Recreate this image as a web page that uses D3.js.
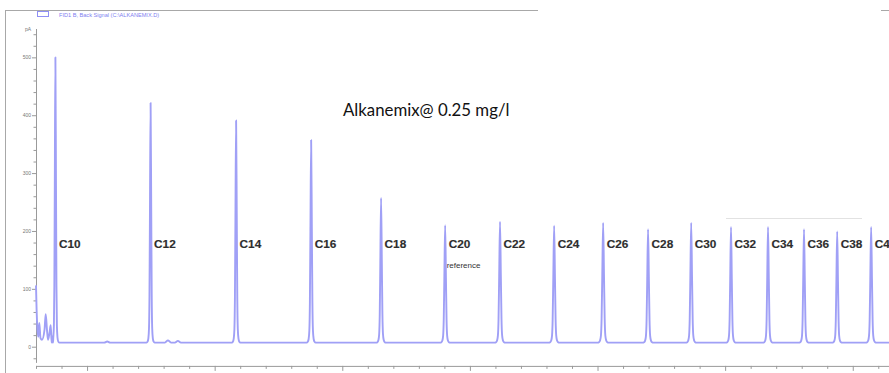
<!DOCTYPE html>
<html><head><meta charset="utf-8">
<script src="https://cdn.jsdelivr.net/npm/d3@7/dist/d3.min.js"></script>
<style>html,body{margin:0;padding:0;background:#fff;}svg{display:block;}</style>
</head><body>
<svg id="c" width="889" height="373"></svg>
<script>
// ---- data ----
const peakLabels = ["C10","C12","C14","C16","C18","C20","C22","C24","C26","C28","C30","C32","C34","C36","C38","C4"];
const peakTimes  = [3.76, 7.49, 10.84, 13.78, 16.52, 19.03, 21.18, 23.30, 25.22, 26.98, 28.67, 30.23, 31.68, 33.09, 34.39, 35.72]; // min
const peakHeights= [500, 421, 391, 357, 257, 210, 216, 209, 214, 203, 214, 207, 207, 203, 199, 207]; // pA
const peakWidths = [0.75, 0.8, 0.85, 0.9, 0.95, 1.0, 1.05, 1.05, 1.1, 1.05, 1.05, 1.0, 1.0, 1.0, 1.0, 1.05];
const baselinePA = 7;
const solventTimes  = [3.00, 3.024, 3.059, 3.09, 3.129, 3.176, 3.235, 3.333, 3.38, 3.43, 3.47, 3.529, 3.576, 3.627, 3.666];
const solventValues = [106, 63, 29, 17, 41, 15, 12, 29, 56, 29, 12, 24, 37, 18, 7];
const minorBumpTimes = [5.79, 8.17, 8.56];
const minorBumpValues= [9, 11, 10];
const yTicks = [0, 100, 200, 300, 400, 500];
const xMajorTicks = [5, 10, 15, 20, 25, 30, 35];
const titleText = "Alkanemix@ 0.25 mg/l";
const legendText = "FID1 B, Back Signal (C:\\ALKANEMIX.D)";
const unitText = "pA";
const refText = "reference";

// ---- shape of a single peak (offsets in px of base width, fraction of height) ----
const PEAK_PROFILE = [[-5,0],[-3.8,0.004],[-2.8,0.018],[-2.0,0.06],[-1.4,0.2],[-0.8,0.55],[0,1],[0.8,0.55],[1.4,0.2],[2.0,0.06],[2.8,0.018],[3.8,0.004],[5,0]];

const svg = d3.select("#c");
const x = d3.scaleLinear().domain([3, 36.42]).range([36, 889]);
const y = d3.scaleLinear().domain([-28, 549]).range([362.9, 29]);
const pxToMin = (x.domain()[1]-x.domain()[0])/(x.range()[1]-x.range()[0]);

const blue = "#a0a0f6";
const grey = "#9a9a9a";

// frame
svg.append("line").attr("x1",5.5).attr("x2",5.5).attr("y1",10).attr("y2",373).attr("stroke","#a8a8a8").attr("stroke-width",1);
svg.append("line").attr("x1",5.5).attr("x2",889).attr("y1",10.5).attr("y2",10.5).attr("stroke","#a8a8a8").attr("stroke-width",1);

// y axis
const yAxis = d3.axisLeft(y).tickValues(yTicks).tickSize(4).tickFormat(d3.format("d"));
const yMinor = d3.range(-20, 549, 20).filter(v => v % 100 !== 0);
const gy = svg.append("g").attr("transform","translate(36,0)");
gy.call(yAxis);
gy.select(".domain").attr("stroke",grey).attr("d", `M0.5,${y(549)}V${y(-28)}`);
gy.selectAll(".tick line").attr("stroke",grey);
gy.selectAll(".tick text").attr("fill","#777").attr("font-size","5px").attr("font-family","Liberation Sans, Arial, sans-serif").attr("x",-5);
gy.append("g").selectAll("line").data(yMinor).join("line")
  .attr("x1",-2.5).attr("x2",0).attr("y1",d=>y(d)+0.5).attr("y2",d=>y(d)+0.5).attr("stroke",grey);
svg.append("text").attr("x",31).attr("y",y(549)+2).attr("text-anchor","end")
  .attr("font-size","5px").attr("fill","#777").attr("font-family","Liberation Sans, Arial, sans-serif").text(unitText);

// x axis
const gx = svg.append("g").attr("transform",`translate(0,${y(-28)+3})`);
gx.call(d3.axisBottom(x).tickValues(xMajorTicks).tickSize(5).tickFormat(""));
gx.select(".domain").attr("stroke",grey).attr("d",`M36,0.5H889`);
gx.selectAll(".tick line").attr("stroke",grey);
gx.append("g").selectAll("line").data(d3.range(3, 37, 1).filter(t => t % 5 !== 0)).join("line")
  .attr("x1",d=>x(d)+0.5).attr("x2",d=>x(d)+0.5).attr("y1",0).attr("y2",3).attr("stroke",grey);

// chromatogram trace
let pts = [];
solventTimes.forEach((t,i)=>pts.push({t:t, v:solventValues[i]}));
minorBumpTimes.forEach((t,i)=>{
  pts.push({t:t-3*pxToMin, v:baselinePA},{t:t, v:minorBumpValues[i]},{t:t+3*pxToMin, v:baselinePA});
});
peakTimes.forEach((t,i)=>{
  PEAK_PROFILE.forEach(([o,f])=>{
    pts.push({t: t + o*peakWidths[i]*pxToMin, v: baselinePA + f*(peakHeights[i]-baselinePA)});
  });
});
pts.push({t:x.domain()[1], v:baselinePA});
pts.sort((a,b)=>a.t-b.t);
const line = d3.line().x(d=>x(d.t)).y(d=>y(d.v)).curve(d3.curveMonotoneX);
svg.append("path").datum(pts).attr("d",line).attr("fill","none").attr("stroke",blue).attr("stroke-width",1.9).attr("stroke-linejoin","round");

// white box covering top right (as in the reference)
svg.append("rect").attr("x",538).attr("y",0).attr("width",343).attr("height",218).attr("fill","#fff");
svg.append("line").attr("x1",726).attr("x2",862).attr("y1",218.5).attr("y2",218.5).attr("stroke","#e2e2e2").attr("stroke-width",1);

// peak labels
svg.append("g").selectAll("text").data(peakLabels).join("text")
  .attr("x",(d,i)=>x(peakTimes[i])+3.5).attr("y",248)
  .attr("font-family","Liberation Sans, Arial, sans-serif").attr("font-weight","bold")
  .attr("font-size","11.8px").attr("fill","#2e2e2e").attr("stroke","#2e2e2e").attr("stroke-width",0.15)
  .text(d=>d);
svg.append("text").attr("x",x(peakTimes[5])+1.5).attr("y",267.5)
  .attr("font-family","Liberation Sans, Arial, sans-serif").attr("font-size","8px").attr("fill","#333").text(refText);

// title
svg.append("text").attr("x",343).attr("y",116).attr("font-family","Lato, 'Open Sans', sans-serif")
  .attr("font-size","16.8px").attr("fill","#111").text(titleText);

// legend
svg.append("rect").attr("x",37.5).attr("y",11.5).attr("width",11).attr("height",5).attr("fill","none").attr("stroke","#8f8ff5").attr("stroke-width",1);
svg.append("text").attr("x",59).attr("y",17).attr("font-family","Liberation Sans, Arial, sans-serif")
  .attr("font-size","5.6px").attr("fill","#8080f0").text(legendText);
</script>
</body></html>
